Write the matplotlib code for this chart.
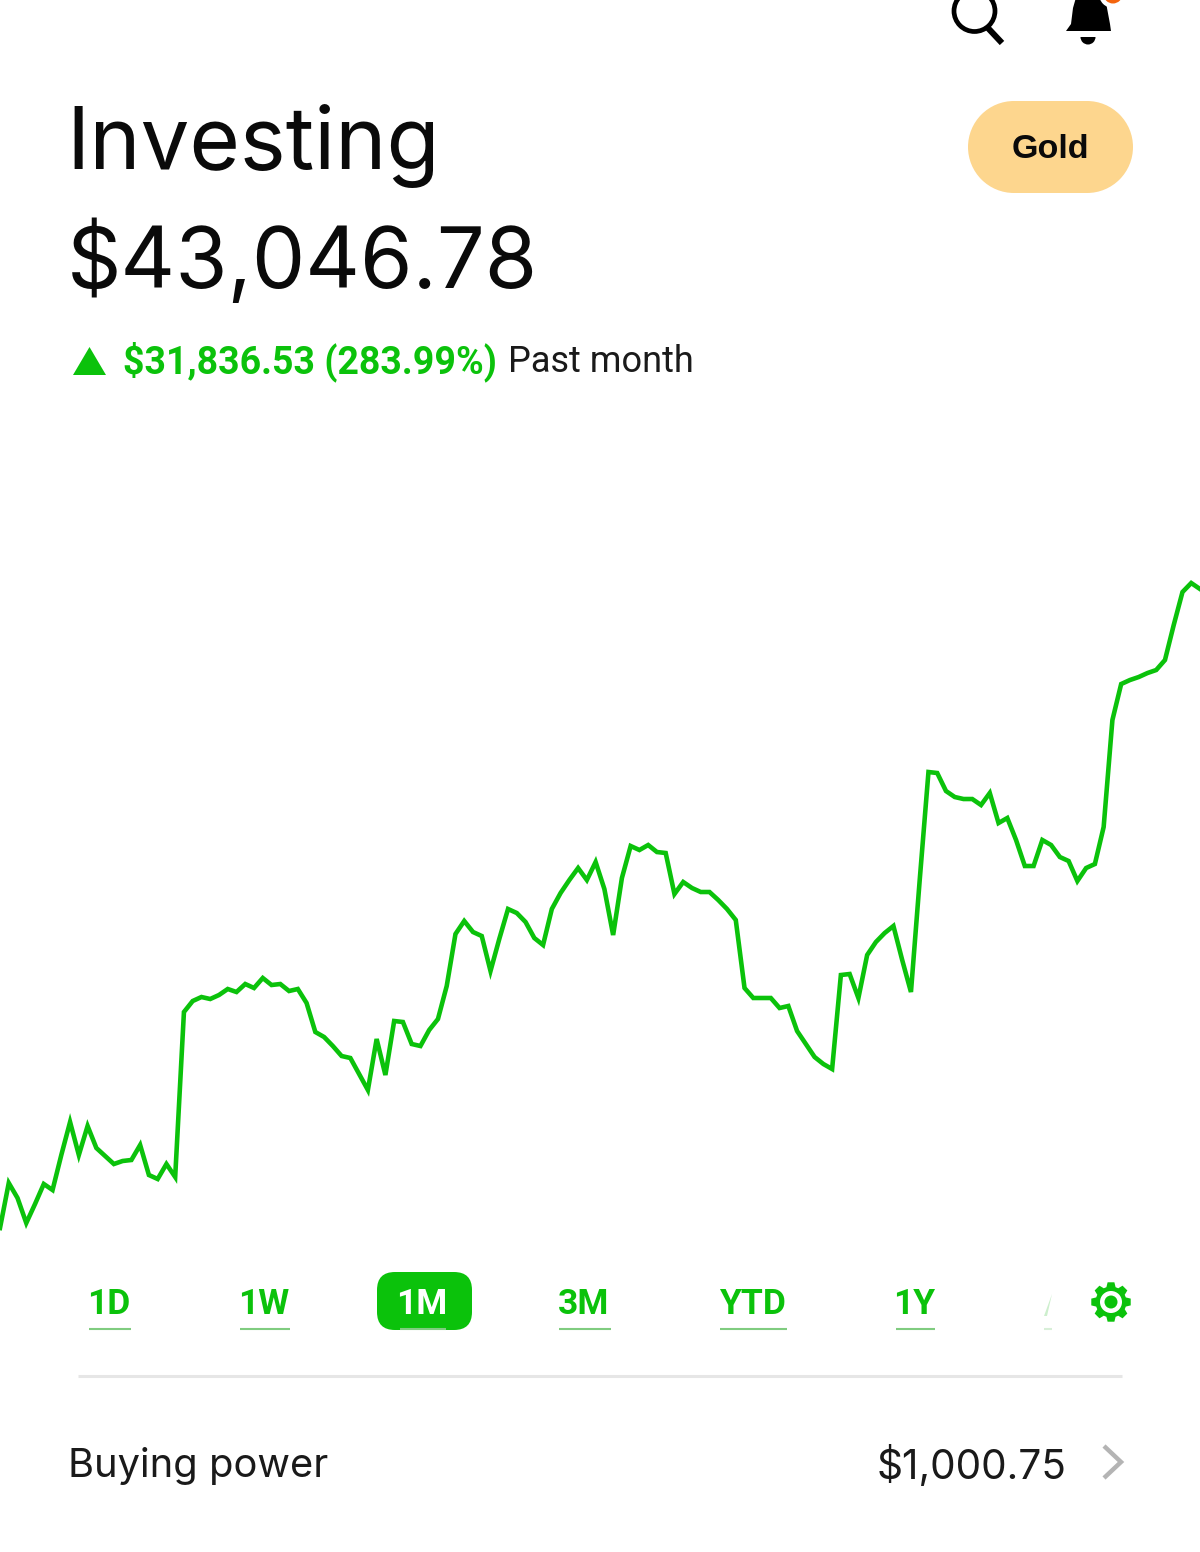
import numpy as np
import matplotlib
matplotlib.use("Agg")
import matplotlib.pyplot as plt
from matplotlib.patches import FancyBboxPatch, Polygon, Circle, Wedge, Rectangle

# ---- data ----
balance = [11210, 13452, 12705, 11459, 12406, 13402, 13103, 14847, 16491, 14847,
           16292, 15196, 14797, 14398, 14548, 14598, 15345, 13850, 13651, 14398,
           13751, 21971, 22519, 22718, 22619, 22818, 23117, 22968, 23366, 23167,
           23665, 23316, 23366, 23017, 23117, 22420, 20975, 20726, 20277, 19779,
           19679, 18882, 18085, 20626, 18832, 21523, 21473, 20377, 20277, 21074,
           21622, 23266, 25857, 26505, 25957, 25757, 24014, 25608, 27103, 26903,
           26455, 25658, 25309, 27103, 27900, 28547, 29145, 28547, 29444, 28099,
           25807, 28647, 30241, 30042, 30291, 29942, 29893, 27850, 28448, 28149,
           27950, 27950, 27551, 27103, 26555, 23167, 22669, 22669, 22669, 22170,
           22270, 21025, 20377, 19729, 19380, 19131, 23814, 23864, 22669, 24811,
           25459, 25907, 26256, 24562, 22968, 28547, 33928, 33878, 32981, 32683,
           32583, 32583, 32284, 32882, 31387, 31636, 30540, 29245, 29245, 30540,
           30291, 29693, 29494, 28498, 29145, 29345, 31188, 36519, 38312, 38511,
           38660, 38859, 39010, 39508, 41252, 42895, 43344, 43046]
title = "Investing"
total = "$43,046.78"
change = "$31,836.53 (283.99%)"
period = "Past month"
tabs = ["1D", "1W", "1M", "3M", "YTD", "1Y"]
power_label = "Buying power"
power_value = "$1,000.75"

GREEN = "#0BC20B"
W, H = 1200, 1552
fig = plt.figure(figsize=(W / 100, H / 100), dpi=100, facecolor="white")

# UI layer in pixel coordinates
ui = fig.add_axes([0, 0, 1, 1])
ui.set_xlim(0, W)
ui.set_ylim(H, 0)
ui.axis("off")

# Line chart with its own scales
top_px, bot_px = 570, 1240
chart = fig.add_axes([0, 1 - bot_px / H, 1, (bot_px - top_px) / H])
chart.patch.set_alpha(0)
chart.axis("off")
x = np.arange(len(balance))
chart.plot(x, balance, color=GREEN, lw=3.3, solid_joinstyle="miter")
chart.set_xlim(0, len(balance) - 1)
chart.set_ylim(10612, 43993)

SANS = "Inter"
ui.text(66, 146, title, fontsize=62.5, family=SANS, color="#0a0a0a", va="center", ha="left")
ui.text(67, 262, total, fontsize=61, family=SANS, color="#0a0a0a", va="center", ha="left")

ui.add_patch(Polygon([(73, 375), (106, 375), (89.5, 347)], closed=True, fc=GREEN, ec="none"))
ui.text(123, 362, change, fontsize=27, family="Roboto", weight="bold", color=GREEN, va="center", ha="left")
ui.text(508, 362, period, fontsize=26, family="Roboto", color="#1a1a1a", va="center", ha="left")

# Gold pill
GOLD = "#FDD68E"
ui.add_patch(Rectangle((1014, 101), 73, 92, fc=GOLD, ec="none"))
ui.add_patch(Circle((1014, 147), 46, fc=GOLD, ec="none"))
ui.add_patch(Circle((1087, 147), 46, fc=GOLD, ec="none"))
ui.text(1050, 150, "Gold", fontsize=24.5, family="Liberation Sans", weight="bold", color="#0a0a0a",
        va="center", ha="center")

# Search icon
ui.add_patch(Circle((974.5, 11), 20.5, fc="none", ec="black", lw=3.4))
ui.plot([987, 1002], [27, 43], color="black", lw=4.4, solid_capstyle="butt")

# Bell icon
bell = [(1066, 31), (1071, 24), (1073, 8), (1077, -6), (1088, -12), (1105, -6), (1107, 8), (1110, 24), (1111, 31)]
ui.add_patch(Polygon(bell, closed=True, fc="black", ec="none"))
ui.add_patch(Wedge((1088, 37), 7.5, 0, 180, fc="black", ec="none"))
ui.add_patch(Circle((1113, -6), 14, fc="white", ec="none"))
ui.add_patch(Circle((1113, -6), 9.5, fc="#F4640E", ec="none"))

# Range tabs
tab_spans = [(89, 131), (240, 290), (400, 446), (559, 611), (720, 787), (896, 935)]
ui.add_patch(FancyBboxPatch((377 + 18, 1272 + 18), 95 - 36, 58 - 36,
                            boxstyle="round,pad=18,rounding_size=18", fc=GREEN, ec="none"))
for label, (a, b) in zip(tabs, tab_spans):
    active = label == "1M"
    ui.text((a + b) / 2 - 1, 1304, label, fontsize=25.5, family="Roboto", weight="bold",
            color="white" if active else GREEN, va="center", ha="center")
    ui.plot([a, b], [1329, 1329], color="#80CC80", lw=1.5, solid_capstyle="butt")

# Faded, clipped tab at the gear
ui.add_patch(Polygon([(1044, 1316), (1047, 1316), (1052, 1294)], closed=True, fc="#CDEFCD", ec="none"))
ui.plot([1044, 1052], [1329, 1329], color="#D8EFD8", lw=1.5, solid_capstyle="butt")

# Gear icon
cx, cy = 1111, 1302
gear_pts = []
for k in range(8):
    c = np.pi / 4 * k
    for da, r in [(-0.30, 15.5), (-0.17, 20), (0.17, 20), (0.30, 15.5)]:
        gear_pts.append((cx + r * np.cos(c + da), cy + r * np.sin(c + da)))
ui.add_patch(Polygon(gear_pts, closed=True, fc=GREEN, ec="none"))
ui.add_patch(Circle((cx, cy), 11, fc="white", ec="none"))
ui.add_patch(Circle((cx, cy), 6.5, fc=GREEN, ec="none"))

# Separator
ui.plot([78, 1122], [1376, 1376], color="#E6E6E6", lw=2.2, solid_capstyle="butt")

# Buying power row
ui.text(68, 1466, power_label, fontsize=28.7, family=SANS, color="#1a1a1a", va="center", ha="left")
ui.text(1066, 1466, power_value, fontsize=29.2, family=SANS, color="#1a1a1a", va="center", ha="right")
ui.plot([1104, 1121, 1104], [1446, 1462, 1478], color="#B4B4B4", lw=3.2, solid_joinstyle="miter",
        solid_capstyle="butt")

fig.savefig("out.png", dpi=100, facecolor="white")
